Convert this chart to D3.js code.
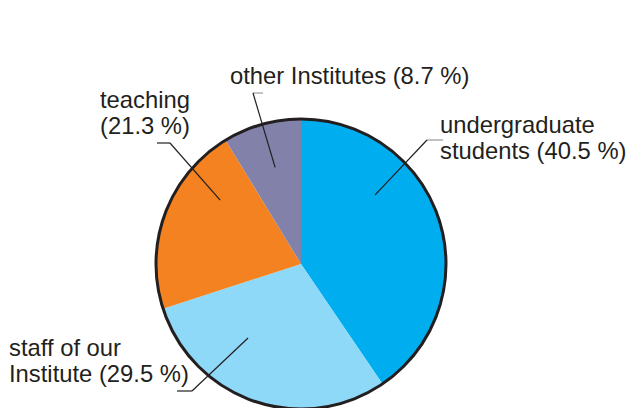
<!DOCTYPE html>
<html>
<head>
<meta charset="utf-8">
<script src="https://cdn.jsdelivr.net/npm/d3@7/dist/d3.min.js"></script>
<style>
html,body{margin:0;padding:0;background:#fff;}
svg{display:block;}
text{font-family:"Liberation Sans",Arial,Helvetica,sans-serif;fill:#231f20;}
</style>
</head>
<body>
<svg id="chart" width="628" height="408"></svg>
<script>
// Data
const categories = ["undergraduate students", "staff of our Institute", "teaching", "other Institutes"];
const values = [40.5, 29.5, 21.3, 8.7];
const labelLines = [
  ["undergraduate", "students (40.5 %)"],
  ["staff of our", "Institute (29.5 %)"],
  ["teaching", "(21.3 %)"],
  ["other Institutes (8.7 %)"]
];
const colors = ["#00aeef", "#8ed8f8", "#f58220", "#8181a9"];

// Layout
const W = 628, H = 408;
const cx = 301, cy = 264, R = 145;
const fontSize = 23.8, lineGap = 26;
// label layout: text anchor point, leader inner point (polar: deg from top clockwise, radius), elbow, tick end
const layout = [
  {tx: 440, ty: 133, ang: 47, rad: 101, elbow: [427, 140], tick: [443, 140], tickColor: "#999"},
  {tx: 9,   ty: 356, ang: 215.6, rad: 91, elbow: [192, 391], tick: [177, 391], tickColor: "#231f20"},
  {tx: 100, ty: 108, ang: 308.3, rad: 103, elbow: [170, 143], tick: [157, 143], tickColor: "#231f20"},
  {tx: 230, ty: 84,  ang: 345, rad: 100, elbow: [253, 93], tick: [263, 93], tickColor: "#999"}
];

const svg = d3.select("#chart");
const g = svg.append("g").attr("transform", `translate(${cx},${cy})`);

const pie = d3.pie().sort(null).value(d => d)(values);
const arc = d3.arc().innerRadius(0).outerRadius(R);

g.selectAll("path.slice").data(pie).join("path")
  .attr("class", "slice")
  .attr("d", arc)
  .attr("fill", (d, i) => colors[i]);

g.append("circle").attr("r", R).attr("fill", "none")
  .attr("stroke", "#231f20").attr("stroke-width", 3);

// leaders
layout.forEach((l, i) => {
  const a = l.ang * Math.PI / 180;
  const px = cx + l.rad * Math.sin(a), py = cy - l.rad * Math.cos(a);
  svg.append("line").attr("x1", l.elbow[0]).attr("y1", l.elbow[1])
    .attr("x2", l.tick[0]).attr("y2", l.tick[1])
    .attr("stroke", l.tickColor).attr("stroke-width", 1.2);
  svg.append("line").attr("x1", px).attr("y1", py)
    .attr("x2", l.elbow[0]).attr("y2", l.elbow[1])
    .attr("stroke", "#231f20").attr("stroke-width", 1.2);
  const t = svg.append("text").attr("x", l.tx).attr("y", l.ty)
    .attr("font-size", fontSize);
  labelLines[i].forEach((s, j) => {
    t.append("tspan").attr("x", l.tx).attr("y", l.ty + j * lineGap).text(s);
  });
});
</script>
</body>
</html>
